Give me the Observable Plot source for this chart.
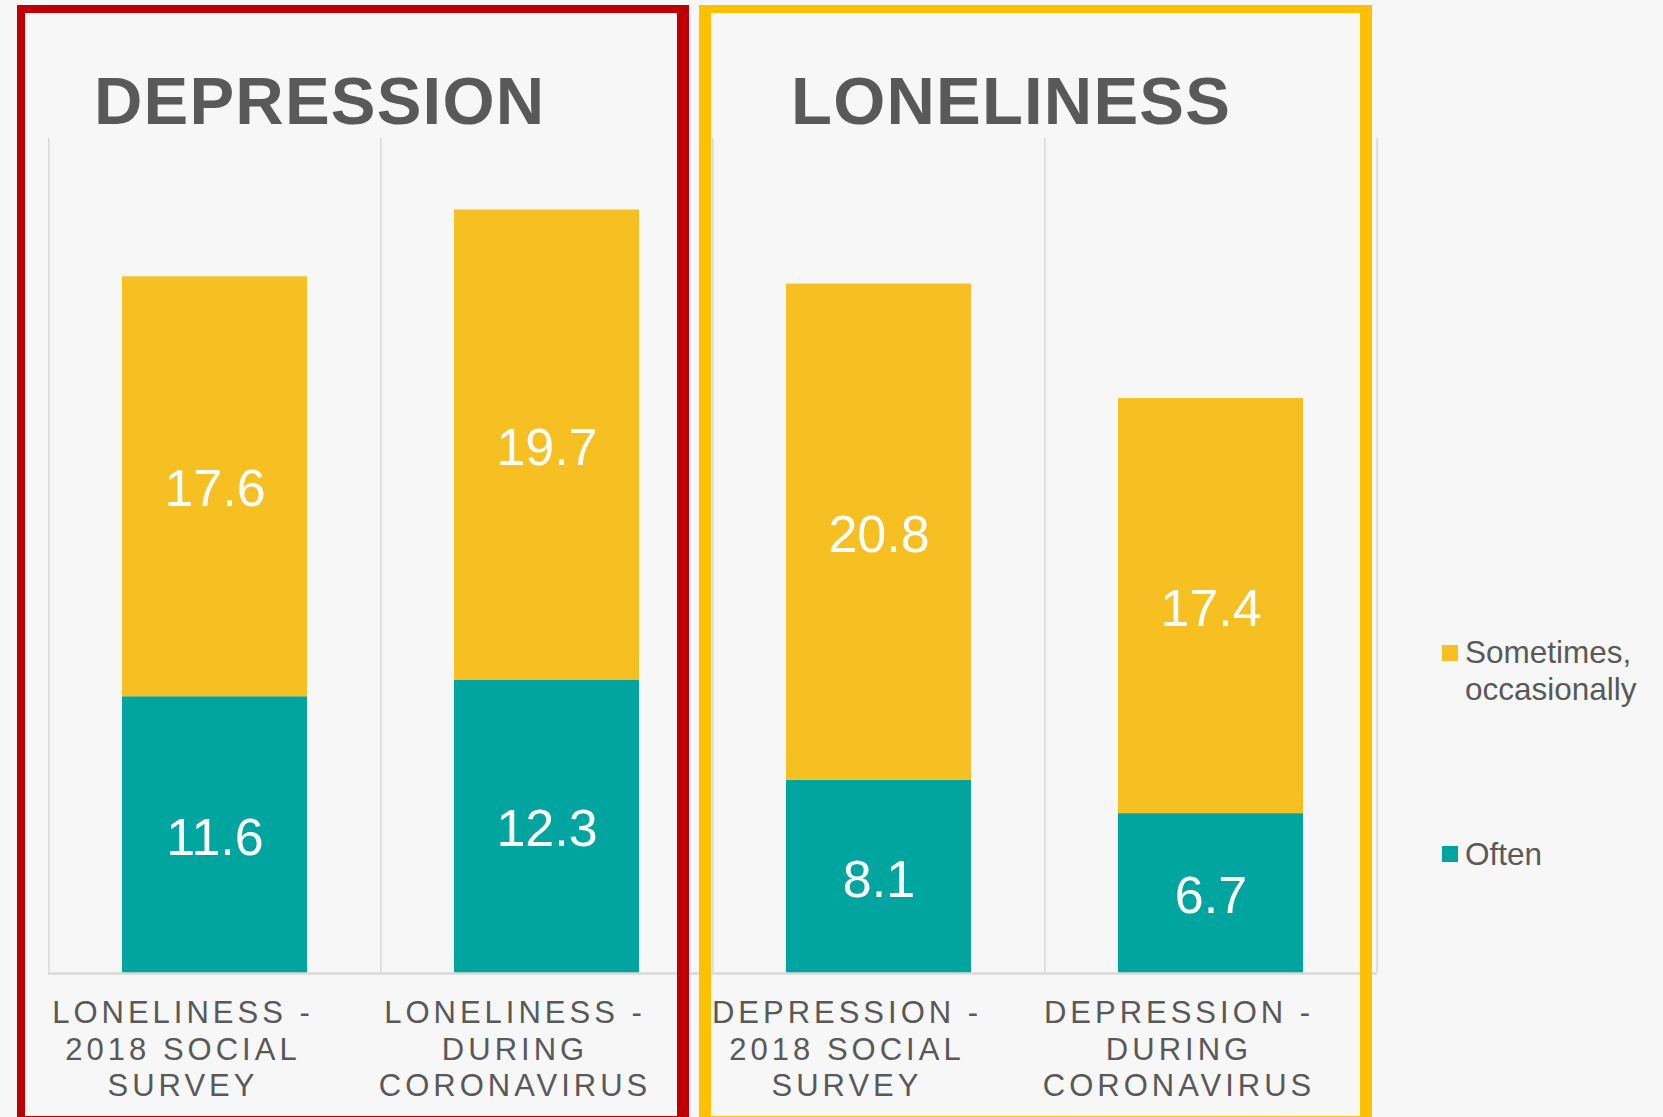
<!DOCTYPE html>
<html>
<head>
<meta charset="utf-8">
<script src="https://cdn.jsdelivr.net/npm/d3@7"></script>
<script src="https://cdn.jsdelivr.net/npm/@observablehq/plot@0.6"></script>
<style>
  html, body { margin: 0; padding: 0; background: #f7f7f7; }
  #wrap { position: relative; width: 1663px; height: 1117px; overflow: hidden; background: #f7f7f7;
          font-family: "Liberation Sans", Arial, sans-serif; }
  #chart { position: absolute; left: 0; top: 0; }
  #chart svg { background: #f7f7f7; }
  #chart svg [aria-label="x-axis tick label"] text { letter-spacing: 4px; }
  .box { position: absolute; box-sizing: border-box; }
  #redbox { left: 17px; top: 5px; width: 672px; height: 1119px;
            border: 8px solid #c00000; border-right-width: 12px; }
  #yellowbox { left: 699px; top: 5px; width: 673px; height: 1119px;
               border: 8px solid #ffc000; border-left-width: 12px; border-right-width: 12px; }
  #overlay { position: absolute; left: 0; top: 0; pointer-events: none; }
</style>
</head>
<body>
<div id="wrap">
  <div id="chart"></div>
  <div class="box" id="redbox"></div>
  <div class="box" id="yellowbox"></div>
  <svg id="overlay" width="1663" height="1117"></svg>
</div>
<script>
// ---- data ----
const categories = [
  "LONELINESS - 2018 SOCIAL SURVEY",
  "LONELINESS - DURING CORONAVIRUS",
  "DEPRESSION - 2018 SOCIAL SURVEY",
  "DEPRESSION - DURING CORONAVIRUS"
];
const tickLabels = [
  "LONELINESS -\n2018 SOCIAL\nSURVEY",
  "LONELINESS -\nDURING\nCORONAVIRUS",
  "DEPRESSION -\n2018 SOCIAL\nSURVEY",
  "DEPRESSION -\nDURING\nCORONAVIRUS"
];
const seriesNames = ["Often", "Sometimes, occasionally"];
const seriesColors = ["#00a5a0", "#f6bf22"];
const often = [11.6, 12.3, 8.1, 6.7];
const sometimes = [17.6, 19.7, 20.8, 17.4];
const panelTitles = ["DEPRESSION", "LONELINESS"];
const yMax = 35;

// ---- table for Plot ----
const rows = [];
categories.forEach((c, i) => {
  rows.push({cat: c, series: seriesNames[0], value: often[i]});
  rows.push({cat: c, series: seriesNames[1], value: sometimes[i]});
});
const labelOf = new Map(categories.map((c, i) => [c, tickLabels[i]]));

const W = 1663, H = 1117, ML = 48, MR = 286, MT = 138, MB = 144;
const step = (W - ML - MR) / categories.length;
const font = '"Liberation Sans", Arial, sans-serif';

const chart = Plot.plot({
  width: W, height: H,
  marginLeft: ML, marginRight: MR, marginTop: MT, marginBottom: MB,
  style: {background: "#f7f7f7", fontFamily: font},
  x: {type: "band", domain: categories, paddingInner: 0.443, paddingOuter: 0.2215},
  y: {domain: [0, yMax], axis: null},
  color: {domain: seriesNames, range: seriesColors},
  marks: [
    Plot.ruleX(categories, {x: d => d, y1: 0, y2: yMax, dx: -step / 2, stroke: "#d9d9d9", strokeWidth: 1.5}),
    Plot.ruleX(categories.slice(-1), {x: d => d, y1: 0, y2: yMax, dx: step / 2, stroke: "#d9d9d9", strokeWidth: 1.5}),
    Plot.barY(rows, Plot.stackY({x: "cat", y: "value", z: "series", fill: "series", order: seriesNames})),
    Plot.text(rows, Plot.stackY({x: "cat", y: "value", z: "series", order: seriesNames,
      text: d => d.value.toFixed(1), fill: "white", fontSize: 52, dy: 3, fontFamily: font})),
    Plot.ruleY([0], {stroke: "#d9d9d9", strokeWidth: 2.5}),
    Plot.axisX({tickSize: 0, tickPadding: 23.5, fontSize: 31, lineHeight: 1.18,
      fill: "#595959", dx: -32, label: null, tickFormat: d => labelOf.get(d), fontFamily: font})
  ]
});
document.getElementById("chart").appendChild(chart);

// ---- titles and legend (overlay) ----
const ov = d3.select("#overlay");
const titleX = [94, 791];
panelTitles.forEach((t, i) => {
  ov.append("text").attr("x", titleX[i]).attr("y", 124)
    .attr("font-family", font).attr("font-weight", "bold").attr("font-size", 67)
    .attr("letter-spacing", 1.2).attr("fill", "#595959").text(t);
});
const legendItems = [
  {name: seriesNames[1], color: seriesColors[1], lines: ["Sometimes,", "occasionally"], sq: 645, base: 663},
  {name: seriesNames[0], color: seriesColors[0], lines: ["Often"], sq: 846, base: 865}
];
legendItems.forEach(it => {
  ov.append("rect").attr("x", 1442).attr("y", it.sq).attr("width", 16).attr("height", 16).attr("fill", it.color);
  const t = ov.append("text").attr("x", 1465).attr("y", it.base)
    .attr("font-family", font).attr("font-size", 31.5).attr("fill", "#595959");
  it.lines.forEach((l, j) => t.append("tspan").attr("x", 1465).attr("dy", j === 0 ? 0 : 37).text(l));
});
</script>
</body>
</html>
